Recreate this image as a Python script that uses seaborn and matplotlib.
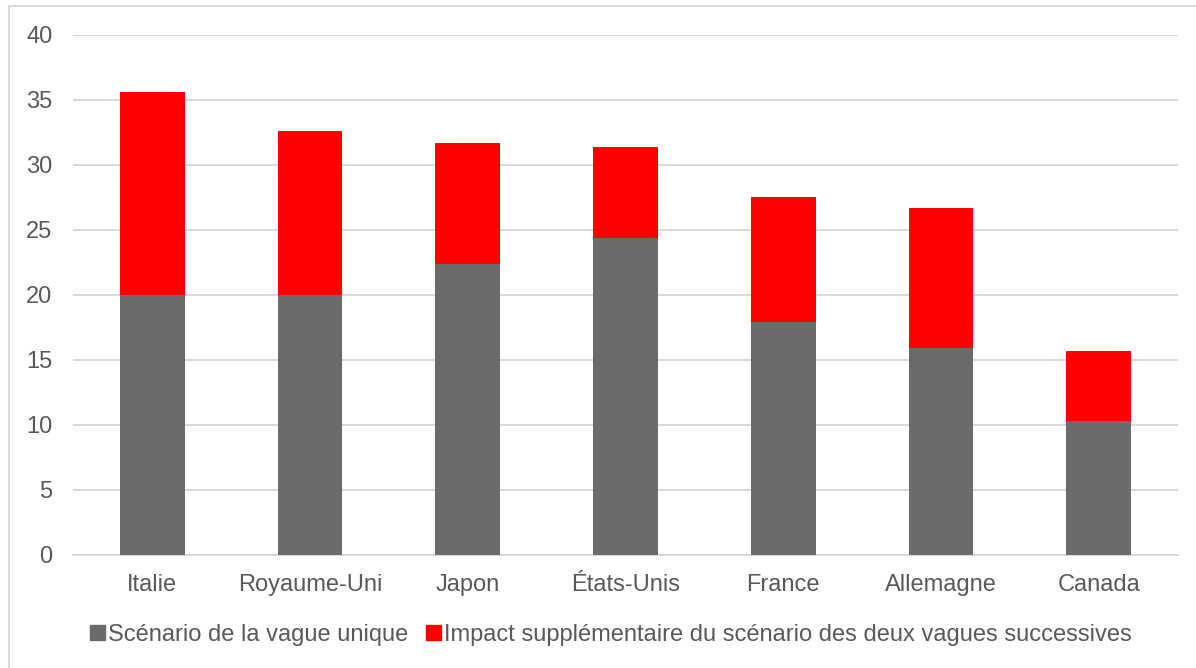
import matplotlib
matplotlib.use("Agg")
import matplotlib.pyplot as plt
import matplotlib.patches as mpatches
from matplotlib.lines import Line2D
import seaborn as sns
import pandas as pd

categories = ["Italie", "Royaume-Uni", "Japon", "États-Unis", "France", "Allemagne", "Canada"]
vague_unique = [20.0, 20.0, 22.4, 24.4, 17.9, 15.9, 10.3]
impact_supp = [15.6, 12.6, 9.25, 6.95, 9.6, 10.75, 5.4]
series_names = ["Scénario de la vague unique",
                "Impact supplémentaire du scénario des deux vagues successives"]
yticks = [0, 5, 10, 15, 20, 25, 30, 35, 40]

GREY = "#6b6b6b"
RED = "#ff0000"
TEXT = "#595959"
GRID = "#d9d9d9"
FS = 17

sns.set_style("white")
plt.rcParams["font.family"] = ["Liberation Sans", "DejaVu Sans"]

df = pd.DataFrame({
    "pays": categories,
    "base": vague_unique,
    "total": [a + b for a, b in zip(vague_unique, impact_supp)],
})

fig = plt.figure(figsize=(11.96, 6.68), dpi=100)
ax = fig.add_axes([73.3 / 1196, 1 - 554.7 / 668, (1177.7 - 73.3) / 1196, (554.7 - 34.7) / 668])

sns.barplot(data=df, x="pays", y="total", color=RED, width=0.41, saturation=1,
            ax=ax, linewidth=0, zorder=3)
sns.barplot(data=df, x="pays", y="base", color=GREY, width=0.41, saturation=1,
            ax=ax, linewidth=0, zorder=4)

ax.set_ylim(0, 40)
ax.set_xlim(-0.5, len(categories) - 0.5)
ax.set_yticks(yticks)
ax.set_yticklabels([str(t) for t in yticks])
ax.set_xlabel("")
ax.set_ylabel("")
ax.yaxis.grid(True, color=GRID, linewidth=1.4, zorder=0)
ax.set_axisbelow(True)
for s in ["top", "right", "left"]:
    ax.spines[s].set_visible(False)
ax.spines["bottom"].set_color(GRID)
ax.spines["bottom"].set_linewidth(1.4)
ax.tick_params(axis="both", length=0, labelsize=FS, labelcolor=TEXT)
ax.tick_params(axis="y", pad=15)
ax.tick_params(axis="x", pad=14)

handles = [mpatches.Patch(color=GREY, label=series_names[0]),
           mpatches.Patch(color=RED, label=series_names[1])]
fig.legend(handles=handles, loc="center", bbox_to_anchor=(611 / 1196, 1 - 634.5 / 668),
           ncol=2, frameon=False, fontsize=FS, labelcolor=TEXT,
           handlelength=0.62, handleheight=0.62, handletextpad=0.13, columnspacing=0.78)

# chart frame (left and top edges visible)
fig.add_artist(Line2D([8.5 / 1196, 8.5 / 1196], [0, 1 - 5.7 / 668], transform=fig.transFigure,
                      color=GRID, linewidth=1.5))
fig.add_artist(Line2D([8.5 / 1196, 1], [1 - 5.7 / 668, 1 - 5.7 / 668], transform=fig.transFigure,
                      color=GRID, linewidth=1.5))

fig.savefig("out.png", dpi=100, facecolor="white")
